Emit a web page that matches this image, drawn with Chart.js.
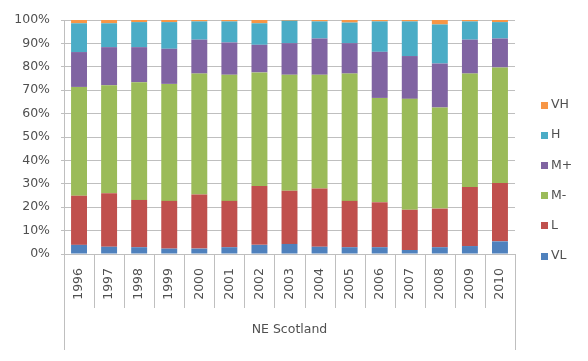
<!DOCTYPE html>
<html>
<head>
<meta charset="utf-8">
<title>NE Scotland</title>
<script src="https://cdn.jsdelivr.net/npm/chart.js@4.4.1/dist/chart.umd.min.js"></script>
<style>
    body { margin: 0; background: #ffffff; }
    #chart { display: block; }
</style>
</head>
<body>
<canvas id="chart" width="588" height="361"></canvas>
<script>
// Share of each class per year, bottom (VL) to top (VH), in percent
const years = ['1996', '1997', '1998', '1999', '2000', '2001', '2002', '2003', '2004', '2005', '2006', '2007', '2008', '2009', '2010'];
const seriesNames = ['VL', 'L', 'M-', 'M+', 'H', 'VH'];
const vl = [3.9, 3.1, 2.9, 2.3, 2.3, 2.9, 3.9, 4.3, 3.1, 2.9, 2.9, 1.7, 2.9, 3.4, 5.4];
const l = [21.0, 22.9, 20.2, 20.4, 23.1, 19.8, 25.2, 22.7, 24.9, 19.8, 19.2, 17.2, 16.5, 25.2, 24.9];
const mMinus = [46.5, 46.1, 50.3, 50.0, 51.7, 53.9, 48.5, 49.6, 48.6, 54.4, 44.6, 47.4, 43.2, 48.5, 49.4];
const mPlus = [14.9, 16.3, 15.0, 15.0, 14.5, 13.8, 11.8, 13.5, 15.5, 13.0, 19.7, 18.3, 18.8, 14.5, 12.4];
const h = [12.3, 10.2, 10.7, 11.4, 7.8, 9.0, 9.2, 9.6, 7.3, 8.8, 13.0, 14.8, 16.7, 7.8, 7.0];
const vh = [1.4, 1.4, 0.9, 0.9, 0.6, 0.6, 1.4, 0.3, 0.6, 1.1, 0.6, 0.6, 1.9, 0.6, 0.9];
const groupName = 'NE Scotland';

const seriesValues = [vl, l, mMinus, mPlus, h, vh];
const seriesColors = ['#4F81BD', '#C0504D', '#9BBB59', '#8064A2', '#4BACC6', '#F79646'];

const FONT = '"DejaVu Sans", sans-serif';
const FONT_SIZE = 12.5;
const TEXT = '#505050';
const LINE = '#BFBFBF';

// category separators under the axis plus the group label box
const groupAxis = {
    id: 'groupAxis',
    afterDraw(chart) {
        const ctx = chart.ctx;
        const area = chart.chartArea;
        const xs = chart.scales.x;
        const n = years.length;
        const step = (area.right - area.left) / n;
        ctx.save();
        ctx.strokeStyle = LINE;
        ctx.lineWidth = 1;
        for (let i = 0; i <= n; i++) {
            const x = Math.round(area.left + i * step) + 0.5;
            const bottom = (i === 0 || i === n) ? area.bottom + 96 : area.bottom + 54;
            ctx.beginPath();
            ctx.moveTo(x, area.bottom);
            ctx.lineTo(x, bottom);
            ctx.stroke();
        }
        ctx.fillStyle = TEXT;
        ctx.font = FONT_SIZE + 'px ' + FONT;
        ctx.textAlign = 'center';
        ctx.textBaseline = 'middle';
        ctx.fillText(groupName, (xs.left + xs.right) / 2, area.bottom + 76);
        ctx.restore();
    }
};

// legend on the right, top entry is the last series
const sideLegend = {
    id: 'sideLegend',
    afterDraw(chart) {
        const ctx = chart.ctx;
        ctx.save();
        ctx.font = FONT_SIZE + 'px ' + FONT;
        ctx.textAlign = 'left';
        ctx.textBaseline = 'middle';
        const order = chart.data.datasets.map((d, i) => i).reverse();
        order.forEach((idx, row) => {
            const ds = chart.data.datasets[idx];
            const y = 105 + row * 30.2;
            ctx.fillStyle = ds.backgroundColor;
            ctx.fillRect(541, Math.round(y - 3.5), 7, 7);
            ctx.fillStyle = TEXT;
            ctx.fillText(ds.label, 551, y);
        });
        ctx.restore();
    }
};

new Chart(document.getElementById('chart'), {
    type: 'bar',
    data: {
        labels: years,
        datasets: seriesNames.map((name, i) => ({
            label: name,
            data: seriesValues[i],
            backgroundColor: seriesColors[i],
            borderWidth: 0,
            barPercentage: 0.53,
            categoryPercentage: 1
        }))
    },
    options: {
        responsive: false,
        devicePixelRatio: 1,
        animation: false,
        layout: { padding: { top: 20, right: 73, bottom: 0, left: 0 } },
        plugins: {
            legend: { display: false },
            tooltip: { enabled: false }
        },
        scales: {
            x: {
                stacked: true,
                grid: { display: false, drawTicks: false },
                border: { display: false },
                ticks: {
                    color: TEXT,
                    font: { family: FONT, size: FONT_SIZE },
                    autoSkip: false,
                    minRotation: 90,
                    maxRotation: 90,
                    padding: 14
                },
                afterFit(scale) { scale.height = 107; }
            },
            y: {
                stacked: true,
                min: 0,
                max: 100,
                grid: { color: LINE, tickLength: 3 },
                border: { display: true, color: LINE },
                ticks: {
                    stepSize: 10,
                    color: TEXT,
                    font: { family: FONT, size: FONT_SIZE },
                    padding: 11,
                    callback: v => v + '%'
                },
                afterFit(scale) { scale.width = 64; }
            }
        }
    },
    plugins: [groupAxis, sideLegend]
});
</script>
</body>
</html>
